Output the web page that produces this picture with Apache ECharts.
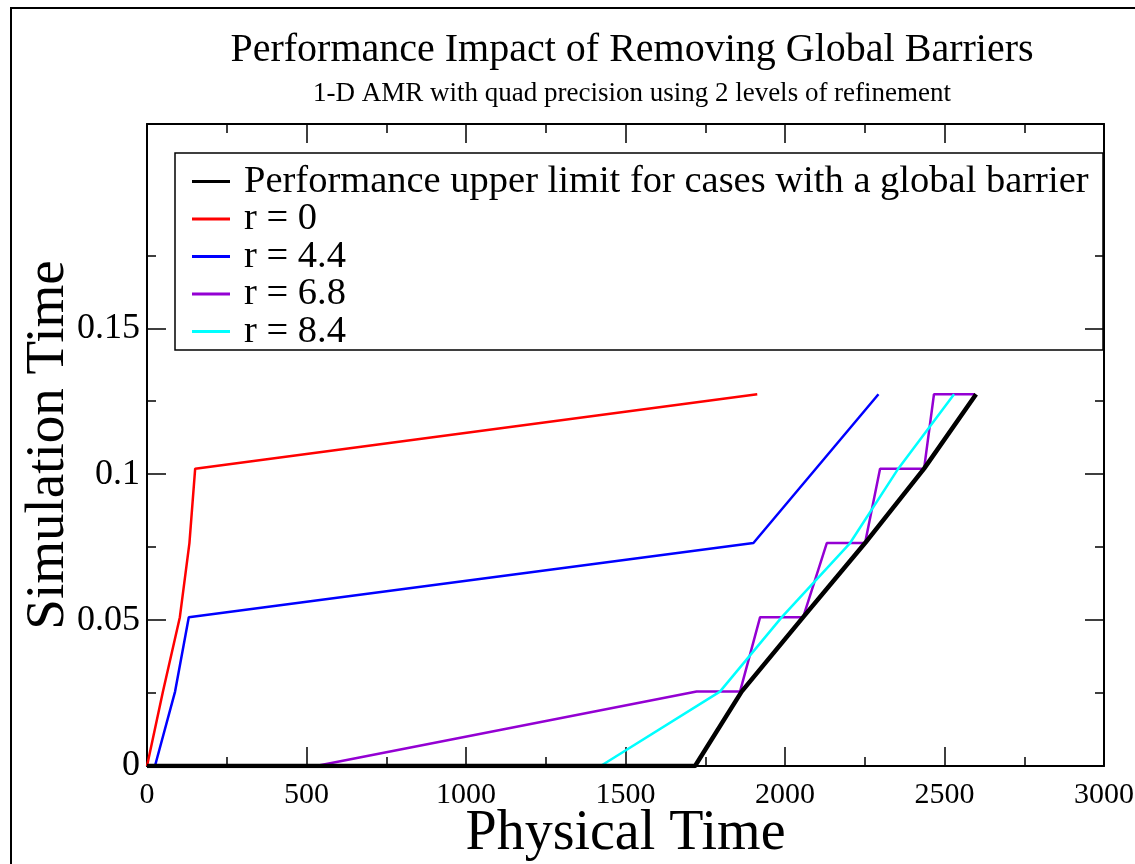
<!DOCTYPE html>
<html>
<head>
<meta charset="utf-8">
<script src="https://cdn.jsdelivr.net/npm/echarts@6/dist/echarts.min.js"></script>
<style>
  html, body { margin: 0; padding: 0; background: #fff; }
  #chart { width: 1135px; height: 864px; }
</style>
</head>
<body>
<div id="chart"></div>
<script>
// series data: [physical time, simulation time]
var limitData = [[0, 0], [1718, 0], [1864, 0.0255], [2057, 0.051], [2251, 0.0764], [2436, 0.1019], [2599, 0.1274]];
var r0Data = [[0, 0], [50, 0.0255], [103, 0.051], [133, 0.0764], [151, 0.1019], [1913, 0.1274]];
var r44Data = [[0, 0], [25, 0], [88, 0.0255], [131, 0.051], [1901, 0.0764], [2293, 0.1274]];
var r68Data = [[0, 0], [530, 0], [1723, 0.0255], [1859, 0.0255], [1922, 0.051], [2057, 0.051], [2131, 0.0764],
  [2251, 0.0764], [2298, 0.1019], [2436, 0.1019], [2467, 0.1274], [2596, 0.1274]];
var r84Data = [[0, 0], [1422, 0], [1796, 0.0255], [1990, 0.051], [2204, 0.0764], [2355, 0.1019], [2530, 0.1274]];

var seriesNames = ['Performance upper limit for cases with a global barrier', 'r = 0', 'r = 4.4', 'r = 6.8', 'r = 8.4'];
var yMajorTicks = [0, 0.05, 0.1, 0.15];
var yMinorTicks = [0.025, 0.075, 0.125, 0.175];

var FONT = 'Liberation Serif, Times New Roman, serif';

function line(name, data, color, width, z) {
    return {
        name: name,
        type: 'line',
        data: data,
        symbol: 'none',
        z: z,
        lineStyle: { color: color, width: width },
        itemStyle: { color: color },
        animation: false
    };
}

function yAxis(position, ticks, len, showLine, showLabel) {
    return {
        type: 'value',
        position: position,
        min: 0,
        max: 0.22,
        splitLine: { show: false },
        axisLine: { show: showLine, onZero: false, lineStyle: { color: '#000', width: 2 } },
        axisTick: { show: true, inside: true, length: len, customValues: ticks, lineStyle: { color: '#000', width: 1.5 } },
        axisLabel: {
            show: showLabel,
            customValues: ticks,
            margin: 7,
            color: '#000',
            fontFamily: FONT,
            fontSize: 36
        }
    };
}

function xAxis(position) {
    return {
        type: 'value',
        position: position,
        min: 0,
        max: 3000,
        interval: 500,
        splitLine: { show: false },
        axisLine: { onZero: false, lineStyle: { color: '#000', width: 2 } },
        axisTick: { inside: true, length: 19, lineStyle: { color: '#000', width: 1.5 } },
        minorTick: { show: true, splitNumber: 2, length: 9, lineStyle: { color: '#000', width: 1.5 } },
        axisLabel: {
            show: position == 'bottom',
            margin: 14,
            color: '#000',
            fontFamily: FONT,
            fontSize: 30,
            formatter: function (v) { return String(v); }
        }
    };
}

var myChart = echarts.init(document.getElementById('chart'));

var yLeft = yAxis('left', yMajorTicks, 19, true, true);
yLeft.name = 'Simulation Time';
yLeft.nameLocation = 'middle';
yLeft.nameGap = 71;
yLeft.nameMoveOverlap = false;
yLeft.nameTextStyle = { color: '#000', fontFamily: FONT, fontSize: 55 };

var xBottom = xAxis('bottom');
xBottom.name = 'Physical Time';
xBottom.nameLocation = 'middle';
xBottom.nameGap = 40;
xBottom.nameMoveOverlap = false;
xBottom.nameTextStyle = { color: '#000', fontFamily: FONT, fontSize: 56 };

var option = {
    backgroundColor: '#fff',
    title: {
        text: 'Performance Impact of Removing Global Barriers',
        subtext: '1-D AMR with quad precision using 2 levels of refinement',
        left: 627,
        top: 25,
        textAlign: 'center',
        itemGap: 10,
        textStyle: { color: '#000', fontFamily: FONT, fontSize: 40, fontWeight: 'normal' },
        subtextStyle: { color: '#000', fontFamily: FONT, fontSize: 27 }
    },
    legend: {
        orient: 'vertical',
        left: 187,
        top: 157,
        icon: 'rect',
        itemWidth: 38,
        itemHeight: 3,
        itemGap: -1.5,
        data: seriesNames,
        textStyle: { color: '#000', fontFamily: FONT, fontSize: 38.5, padding: [0, 0, 0, 9] }
    },
    grid: { left: 147, right: 31, top: 124, bottom: 98, outerBoundsMode: 'none' },
    xAxis: [xBottom, xAxis('top')],
    yAxis: [
        yLeft,
        yAxis('left', yMinorTicks, 9, false, false),
        yAxis('right', yMajorTicks, 19, true, false),
        yAxis('right', yMinorTicks, 9, false, false)
    ],
    graphic: [{
        type: 'rect',
        shape: { x: 11, y: 8, width: 1140, height: 870 },
        style: { fill: 'none', stroke: '#000', lineWidth: 2 },
        silent: true
    }, {
        type: 'rect',
        shape: { x: 175, y: 153, width: 928, height: 197 },
        style: { fill: 'none', stroke: '#000', lineWidth: 1.5 },
        silent: true
    }],
    series: [
        line(seriesNames[0], limitData, '#000000', 4.5, 10),
        line(seriesNames[1], r0Data, '#ff0000', 2.5, 5),
        line(seriesNames[2], r44Data, '#0000ff', 2.5, 5),
        line(seriesNames[3], r68Data, '#9400d3', 2.5, 5),
        line(seriesNames[4], r84Data, '#00ffff', 2.5, 5)
    ]
};

myChart.setOption(option);
</script>
</body>
</html>
